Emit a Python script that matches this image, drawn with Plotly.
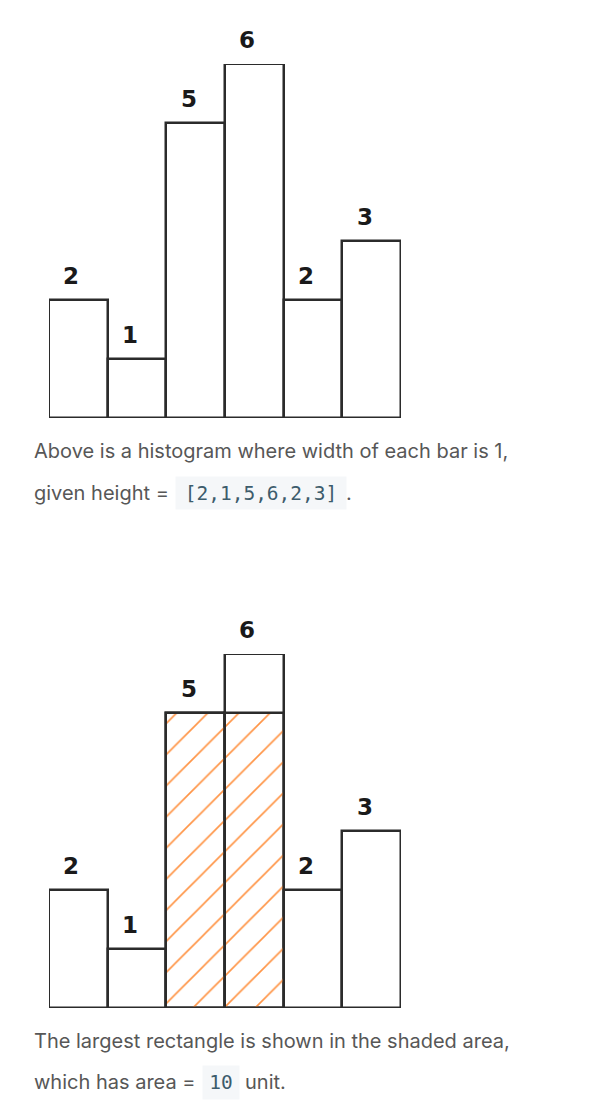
import plotly.graph_objects as go

# ---- data ----
heights = [2, 1, 5, 6, 2, 3]
bar_index = list(range(len(heights)))
caption_1a = "Above is a histogram where width of each bar is 1,"
caption_1b = "given height = "
caption_1c = "[2,1,5,6,2,3]"
caption_1d = "."
caption_2a = "The largest rectangle is shown in the shaded area,"
caption_2b = "which has area = "
caption_2d = "unit."


def largest_rectangle(h):
    best = (0, 0, 0, 0)  # area, start, end, height
    for i in range(len(h)):
        m = h[i]
        for j in range(i, len(h)):
            m = min(m, h[j])
            area = m * (j - i + 1)
            if area > best[0]:
                best = (area, i, j, m)
    return best


area, s_start, s_end, s_height = largest_rectangle(heights)
shade_x = list(range(s_start, s_end + 1))
shade_y = [s_height] * len(shade_x)
caption_2c = str(area)

W, H = 602, 1116
UNIT = 59.0
LINE = "#2b2b2b"
TXT = "#575757"
CODE = "#3d5c6c"
CODEBG = "#f5f7f9"

fig = go.Figure()

for k, (xa, ya) in enumerate([("x", "y"), ("x2", "y2")]):
    fig.add_trace(go.Bar(
        x=bar_index, y=heights, width=1, xaxis=xa, yaxis=ya,
        marker=dict(color="white", line=dict(color=LINE, width=2.5)),
        hoverinfo="skip", showlegend=False, cliponaxis=False,
    ))

fig.add_trace(go.Bar(
    x=shade_x, y=shade_y, width=1, xaxis="x2", yaxis="y2",
    marker=dict(color="rgba(0,0,0,0)",
                line=dict(color=LINE, width=2.5),
                pattern=dict(shape="/", fgcolor="#ff9445", bgcolor="rgba(0,0,0,0)",
                             fgopacity=1, size=22, solidity=0.075)),
    hoverinfo="skip", showlegend=False, cliponaxis=False,
))

base1 = (H - 418) / H
base2 = (H - 1008) / H
top1 = base1 + 6 * UNIT / H
top2 = base2 + 6 * UNIT / H
xdom = [49 / W, 401 / W]

ax = dict(visible=False, showgrid=False, zeroline=False, fixedrange=True)
fig.update_layout(
    width=W, height=H,
    margin=dict(l=0, r=0, t=0, b=0),
    paper_bgcolor="white", plot_bgcolor="rgba(0,0,0,0)",
    barmode="overlay", bargap=0,
    xaxis=dict(domain=xdom, range=[-0.5, 5.5], **ax),
    yaxis=dict(domain=[base1, top1], range=[0, 6], **ax),
    xaxis2=dict(domain=xdom, range=[-0.5, 5.5], anchor="y2", **ax),
    yaxis2=dict(domain=[base2, top2], range=[0, 6], anchor="x2", **ax),
)

annotations = []
for xr, yr in [("x", "y"), ("x2", "y2")]:
    for i, h in zip(bar_index, heights):
        annotations.append(dict(
            x=i - 0.12, y=h, xref=xr, yref=yr, text=str(h), showarrow=False,
            yshift=24, font=dict(family="DejaVu Sans", size=23, color="#1a1a1a", weight="bold"),
        ))

body = dict(family="Inter", size=20, color=TXT)
mono = dict(family="DejaVu Sans Mono", size=19.5, color=CODE)


def text(x_px, y_px, s, font, **kw):
    d = dict(x=x_px / W, y=1 - y_px / H, xref="paper", yref="paper", text=s,
             showarrow=False, xanchor="left", yanchor="middle", font=font)
    d.update(kw)
    annotations.append(d)


text(32, 451, caption_1a, body)
text(32, 493, caption_1b, body)
annotations.append(dict(x=175 / W, y=1 - 493 / H, xref="paper", yref="paper",
                        text=caption_1c, showarrow=False, xanchor="left", yanchor="middle",
                        font=mono, bgcolor=CODEBG, borderpad=3, width=164, height=26))
text(344, 493, caption_1d, body)

text(32, 1041, caption_2a, body)
text(32, 1082, caption_2b, body)
annotations.append(dict(x=202 / W, y=1 - 1082 / H, xref="paper", yref="paper",
                        text=caption_2c, showarrow=False, xanchor="left", yanchor="middle",
                        font=mono, bgcolor=CODEBG, borderpad=3, width=30, height=27))
text(243, 1082, caption_2d, body)

fig.update_layout(annotations=annotations)
fig.write_html("out.html", config={"displayModeBar": False},
               post_script="document.body.style.margin='0px';")
